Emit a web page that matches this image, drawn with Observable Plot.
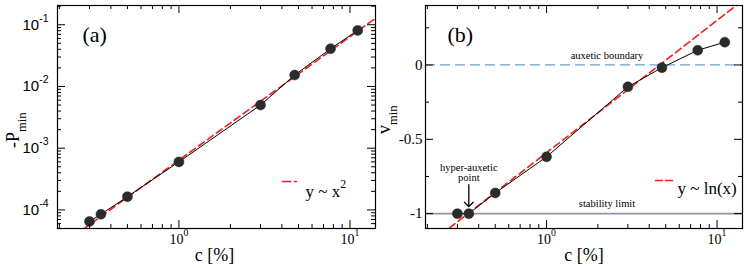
<!DOCTYPE html>
<html>
<head>
<meta charset="utf-8">
<script src="https://cdn.jsdelivr.net/npm/d3@7"></script>
<script src="https://cdn.jsdelivr.net/npm/@observablehq/plot@0.6"></script>
<style>
  body { margin: 0; background: #fff; }
  #wrap { position: relative; width: 747px; height: 268px; overflow: hidden; background: #fff; }
  #wrap svg { position: absolute; top: 0; background: transparent; overflow: visible; }
</style>
</head>
<body>
<div id="wrap"></div>
<script>
// ---- data ----
const conc = [0.3, 0.35, 0.5, 1, 3, 4.75, 7.7, 11.1];           // c [%]
const pMin = [6.5e-5, 8.5e-5, 1.64e-4, 6.0e-4, 5.0e-3, 0.0153, 0.0408, 0.081]; // -P_min
const nuMin = [-1.0, -1.0, -0.861, -0.618, -0.147, -0.018, 0.099, 0.153];      // v_min
const fitPowA = 6.4e-4;          // y = A x^2
const fitLnA = -0.59, fitLnB = 0.89;  // y = a + b log10(x)
const fitX = [0.15, 20];
const auxeticBoundary = [0];
const stabilityLimit = [-1];
const hyperIndex = 1;

const xMajor = [1, 10];
const xMinor = [0.2, 0.3, 0.4, 0.5, 0.6, 0.7, 0.8, 0.9, 2, 3, 4, 5, 6, 7, 8, 9];
const yMajorA = [1e-4, 1e-3, 1e-2, 1e-1];
const yMinorA = [6e-5, 7e-5, 8e-5, 9e-5, 2e-4, 3e-4, 4e-4, 5e-4, 6e-4, 7e-4, 8e-4, 9e-4,
  2e-3, 3e-3, 4e-3, 5e-3, 6e-3, 7e-3, 8e-3, 9e-3, 0.02, 0.03, 0.04, 0.05, 0.06, 0.07, 0.08, 0.09, 0.2];
const yMajorB = [0, -0.5, -1];
const yMinorB = [0.25, -0.25, -0.75];

const serif = "'Liberation Serif', 'Times New Roman', Times, serif";
const sans = "'Liberation Sans', Arial, Helvetica, sans-serif";
const H = 268, MT = 5, MB = 40;
const innerH = H - MT - MB;

const pts = conc.map((c, i) => ({c, p: pMin[i], v: nuMin[i]}));
const fitA = fitX.map(x => ({x, y: fitPowA * x * x}));
const fitB = fitX.map(x => ({x, y: fitLnA + fitLnB * Math.log10(x)}));

const dashShape = { draw(ctx, l) { ctx.moveTo(0, 0); ctx.lineTo(0, -l); } };

function ticks(innerW, xMaj, xMin, yMaj, yMin) {
  const st = {stroke: "#000", strokeWidth: 1};
  return [
    Plot.ruleX(xMaj, {...st, insetTop: innerH - 8}),
    Plot.ruleX(xMaj, {...st, insetBottom: innerH - 8}),
    Plot.ruleX(xMin, {...st, insetTop: innerH - 4}),
    Plot.ruleX(xMin, {...st, insetBottom: innerH - 4}),
    Plot.ruleY(yMaj, {...st, insetRight: innerW - 8}),
    Plot.ruleY(yMaj, {...st, insetLeft: innerW - 8}),
    Plot.ruleY(yMin, {...st, insetRight: innerW - 4}),
    Plot.ruleY(yMin, {...st, insetLeft: innerW - 4})
  ];
}

// ---- panel (a) ----
const WA = 378, MLA = 57, MRA = 3;
const plotA = Plot.plot({
  width: WA, height: H, marginLeft: MLA, marginRight: MRA, marginTop: MT, marginBottom: MB,
  style: {background: "transparent", fontFamily: serif},
  x: {type: "log", domain: [0.195, 14.1], axis: null},
  y: {type: "log", domain: [5e-5, 0.205], axis: null},
  marks: [
    Plot.line(fitA, {x: "x", y: "y", stroke: "#f21d1d", strokeWidth: 1.6, strokeDasharray: "7,4", clip: true}),
    Plot.line(pts, {x: "c", y: "p", stroke: "#000", strokeWidth: 1}),
    Plot.dot(pts, {x: "c", y: "p", r: 5, fill: "#2b2b2b", stroke: "#2b2b2b", strokeWidth: 0.5}),
    ...ticks(WA - MLA - MRA, xMajor, xMinor, yMajorA, yMinorA),
    Plot.frame({stroke: "#000", strokeWidth: 1.2}),
    Plot.text(xMajor, {x: d => d, frameAnchor: "bottom", dy: 15, text: d => "10^" + Math.log10(d), fontFamily: serif, fontSize: 14, fill: "#000"}),
    Plot.text(yMajorA, {y: d => d, frameAnchor: "left", dx: -9, textAnchor: "end", text: d => "10^" + Math.round(Math.log10(d)), fontFamily: sans, fontSize: 15, fill: "#000"}),
    Plot.text(["c [%]"], {frameAnchor: "bottom", dy: 32, dx: -2, fontFamily: serif, fontSize: 18, fill: "#000"}),
    Plot.text(["-P_min"], {frameAnchor: "left", dx: -44, dy: 31, rotate: -90, textAnchor: "start", fontFamily: serif, fontSize: 18, fill: "#000"}),
    Plot.text(["(a)"], {frameAnchor: "top-left", dx: 25, dy: 21, textAnchor: "start", fontFamily: serif, fontSize: 22, fill: "#000"}),
    Plot.vector([0], {frameAnchor: "top-left", dx: 225, dy: 176, length: 14, rotate: 90, anchor: "start", shape: dashShape, stroke: "#f21d1d", strokeWidth: 1.6, strokeDasharray: "8,4"}),
    Plot.text(["y ~ x^2"], {frameAnchor: "top-left", dx: 248, dy: 179, textAnchor: "start", fontFamily: serif, fontSize: 17, fill: "#000"})
  ]
});

// ---- panel (b) ----
const WB = 369, MLB = 47, MRB = 5;
const plotB = Plot.plot({
  width: WB, height: H, marginLeft: MLB, marginRight: MRB, marginTop: MT, marginBottom: MB,
  style: {background: "transparent", fontFamily: serif},
  x: {type: "log", domain: [0.195, 14.1], axis: null},
  y: {domain: [-1.1, 0.4], axis: null},
  marks: [
    Plot.ruleY(auxeticBoundary, {stroke: "#6f9fd8", strokeWidth: 1.3, strokeDasharray: "10,5"}),
    Plot.ruleY(stabilityLimit, {stroke: "#9d8ca8", strokeWidth: 1.6}),
    Plot.line(fitB, {x: "x", y: "y", stroke: "#f21d1d", strokeWidth: 1.6, strokeDasharray: "7,4", clip: true}),
    Plot.line(pts, {x: "c", y: "v", stroke: "#000", strokeWidth: 1}),
    Plot.dot(pts, {x: "c", y: "v", r: 5, fill: "#2b2b2b", stroke: "#2b2b2b", strokeWidth: 0.5}),
    ...ticks(WB - MLB - MRB, xMajor, xMinor, yMajorB, yMinorB),
    Plot.frame({stroke: "#000", strokeWidth: 1.2}),
    Plot.text(xMajor, {x: d => d, frameAnchor: "bottom", dy: 15, text: d => "10^" + Math.log10(d), fontFamily: serif, fontSize: 14, fill: "#000"}),
    Plot.text(yMajorB, {y: d => d, frameAnchor: "left", dx: -3, textAnchor: "end", text: d => d === 0 ? "0" : String(d), fontFamily: serif, fontSize: 15, fill: "#000"}),
    Plot.text(["c [%]"], {frameAnchor: "bottom", dy: 32, dx: 0, fontFamily: serif, fontSize: 18, fill: "#000"}),
    Plot.text(["v_min"], {frameAnchor: "left", dx: -41, dy: 17, rotate: -90, textAnchor: "start", fontFamily: serif, fontSize: 18, fill: "#000"}),
    Plot.text(["(b)"], {frameAnchor: "top-left", dx: 22, dy: 21, textAnchor: "start", fontFamily: serif, fontSize: 22, fill: "#000"}),
    Plot.text(auxeticBoundary, {y: d => d, dx: 23, dy: -9, text: () => "auxetic boundary", fontFamily: serif, fontSize: 10.5, fill: "#000"}),
    Plot.text(stabilityLimit, {y: d => d, dx: 23, dy: -10, text: () => "stability limit", fontFamily: serif, fontSize: 10.5, fill: "#000"}),
    Plot.text([pts[hyperIndex]], {x: "c", y: "v", dy: -41, text: () => "hyper-auxetic\npoint", lineHeight: 0.95, fontFamily: serif, fontSize: 10.5, fill: "#000"}),
    Plot.vector([pts[hyperIndex]], {x: "c", y: "v", dy: -7, length: 22, rotate: 180, anchor: "end", stroke: "#000", strokeWidth: 1.3}),
    Plot.vector([0], {frameAnchor: "top-left", dx: 230, dy: 175, length: 17, rotate: 90, anchor: "start", shape: dashShape, stroke: "#f21d1d", strokeWidth: 1.6, strokeDasharray: "7,3"}),
    Plot.text(["y ~ ln(x)"], {frameAnchor: "top-left", dx: 252, dy: 176, textAnchor: "start", fontFamily: serif, fontSize: 17, fill: "#000"})
  ]
});

const wrap = document.getElementById("wrap");
plotA.style.left = "0px";
plotB.style.left = WA + "px";
wrap.appendChild(plotA);
wrap.appendChild(plotB);

// superscripts / subscripts as real text
function richify(svg) {
  svg.querySelectorAll("text").forEach(t => {
    if (t.querySelector("tspan")) return;
    const s = t.textContent;
    const m = s.match(/^(.*?)([\^_])(.+)$/);
    if (!m) return;
    t.textContent = m[1];
    const ts = document.createElementNS("http://www.w3.org/2000/svg", "tspan");
    ts.setAttribute("font-size", "70%");
    ts.setAttribute("dy", m[2] === "^" ? "-0.75em" : "0.5em");
    ts.textContent = m[3];
    t.appendChild(ts);
  });
}
richify(plotA);
richify(plotB);
</script>
</body>
</html>
